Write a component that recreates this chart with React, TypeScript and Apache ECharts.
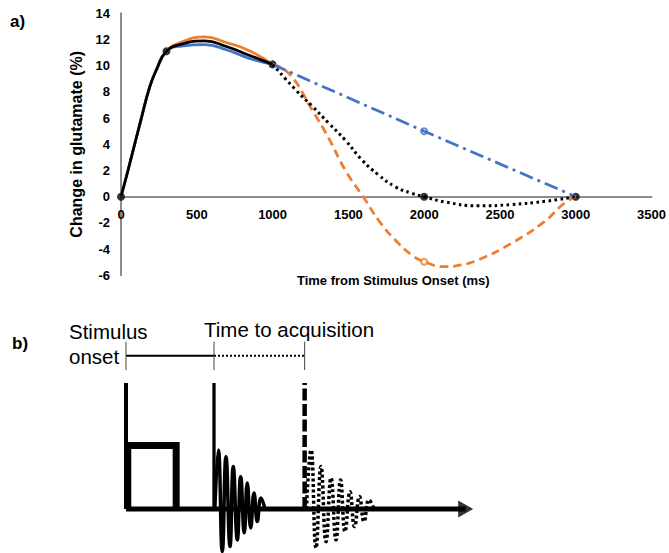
import React, { useEffect, useRef } from "react";
import * as echarts from "echarts";

// ---------- Panel a) data ----------
const riseTimes = [0, 46, 131, 190, 234, 300];
const riseValues = [0, 2.0, 5.85, 8.4, 9.7, 11.1];

const plateauTimes = [400, 550, 700, 846, 1000];
const blackPlateau = [11.65, 11.9, 11.45, 10.8, 10.1];
const orangePlateau = [11.8, 12.2, 11.75, 11.15, 10.1];
const bluePlateau = [11.5, 11.6, 11.2, 10.56, 10.1];

const blackDecayTimes = [1000, 1153, 1262, 1371, 1481, 1590, 1699, 1809, 1918, 2000, 2137, 2356, 2575, 2800, 3000];
const blackDecayValues = [10.1, 8.15, 6.9, 5.6, 4.3, 2.8, 1.66, 0.76, 0.26, 0, -0.4, -0.7, -0.6, -0.35, 0];

const orangeDecayTimes = [1000, 1109, 1262, 1371, 1481, 1612, 1699, 1809, 1918, 2000, 2137, 2246, 2356, 2575, 2793, 2924, 3000];
const orangeDecayValues = [10.1, 9.4, 6.6, 4.45, 2.0, -0.25, -1.8, -3.3, -4.45, -4.96, -5.34, -5.2, -4.83, -3.56, -1.9, -0.5, 0];

const blueDecayTimes = [1000, 2000, 3000];
const blueDecayValues = [10.1, 5, 0];

const blackMarkerTimes = [0, 300, 1000, 2000, 3000];
const blackMarkerValues = [0, 11.1, 10.1, 0, 0];

const xTicks = [0, 500, 1000, 1500, 2000, 2500, 3000, 3500];
const yTicks = [-6, -4, -2, 0, 2, 4, 6, 8, 10, 12, 14];

// ---------- Panel b) schematic data (arbitrary units) ----------
const eventTimes = [0, 1, 2.03]; // stimulus onset, acquisition 1, acquisition 2
const pulseBox = { start: 0.02, end: 0.57, height: 0.504 };
const timelineLevel = 1.217;
const fid1Times = [1.01, 1.049, 1.094, 1.136, 1.182, 1.219, 1.265, 1.303, 1.344, 1.378, 1.417, 1.455, 1.492, 1.534, 1.58];
const fid1Amps = [0, 0.468, -0.339, 0.415, -0.299, 0.336, -0.246, 0.256, -0.19, 0.206, -0.151, 0.127, -0.1, 0.087, 0];
const fid2Times = [2.05, 2.102, 2.159, 2.216, 2.273, 2.33, 2.386, 2.438, 2.489, 2.545, 2.597, 2.653, 2.705, 2.761, 2.818];
const fid2Amps = [0, 0.468, -0.31, 0.336, -0.26, 0.246, -0.246, 0.23, -0.18, 0.137, -0.14, 0.098, -0.1, 0.071, 0];
const axisEnd = 3.86;

const zip = (a: number[], b: number[]) => a.map((v, i) => [v, b[i]]);

const FONT = '"Liberation Sans", Arial, sans-serif';
const ORANGE = "#ED7D31";
const BLUE = "#4472C4";

export default function App() {
  const ref = useRef<HTMLDivElement>(null);
  useEffect(() => {
    const chart = echarts.init(ref.current!, undefined, { renderer: "svg" });
    const lw = 2.75;
    const bx = { xAxisIndex: 1, yAxisIndex: 1 };
    const gridTop = 13.3;
    const gridH = 262;
    const yMin = yTicks[0];
    const yMax = yTicks[yTicks.length - 1];
    const zeroOffset = -(gridH * (0 - yMin)) / (yMax - yMin);
    const option: any = {
      animation: false,
      grid: [
        { left: 121, top: gridTop, width: 533, height: gridH },
        { left: 99.6, top: 332.6, width: 400.4, height: 220.5 },
      ],
      xAxis: [
        {
          type: "value",
          gridIndex: 0,
          min: xTicks[0],
          max: xTicks[xTicks.length - 1],
          interval: 500,
          position: "bottom",
          offset: zeroOffset,
          axisLine: { onZero: false, lineStyle: { color: "#8c8c8c", width: 2 } },
          axisTick: { show: false },
          splitLine: { show: false },
          axisLabel: {
            color: "#000",
            fontWeight: "bold",
            fontSize: 13,
            fontFamily: FONT,
            margin: 11,
            formatter: (v: number) => String(v),
          },
          name: "Time from Stimulus Onset (ms)",
          nameLocation: "middle",
          nameGap: 77,
          nameTextStyle: { color: "#000", fontWeight: "bold", fontSize: 13, fontFamily: FONT, padding: [0, 0, 0, 14] },
        },
        { type: "value", gridIndex: 1, min: -0.3, max: 4.25, show: false },
      ],
      yAxis: [
        {
          type: "value",
          gridIndex: 0,
          min: yMin,
          max: yMax,
          interval: 2,
          axisLine: { show: true, onZero: false, lineStyle: { color: "#8c8c8c", width: 2 } },
          axisTick: { show: false },
          splitLine: { show: false },
          axisLabel: { color: "#000", fontWeight: "bold", fontSize: 13, fontFamily: FONT, margin: 11 },
          name: "Change in glutamate (%)",
          nameLocation: "middle",
          nameRotate: 90,
          nameGap: 32,
          nameTextStyle: { color: "#000", fontWeight: "bold", fontSize: 16, fontFamily: FONT },
        },
        { type: "value", gridIndex: 1, min: -0.35, max: 1.4, show: false },
      ],
      series: [
        {
          type: "line",
          data: zip(riseTimes.concat(plateauTimes), riseValues.concat(orangePlateau)),
          smooth: true,
          showSymbol: false,
          lineStyle: { color: ORANGE, width: lw },
        },
        {
          type: "line",
          data: zip(riseTimes.concat(plateauTimes), riseValues.concat(bluePlateau)),
          smooth: true,
          showSymbol: false,
          lineStyle: { color: BLUE, width: lw },
        },
        {
          type: "line",
          data: zip(riseTimes.concat(plateauTimes), riseValues.concat(blackPlateau)),
          smooth: true,
          showSymbol: false,
          lineStyle: { color: "#000", width: lw },
        },
        {
          type: "line",
          data: zip(orangeDecayTimes, orangeDecayValues),
          smooth: true,
          showSymbol: false,
          lineStyle: { color: ORANGE, width: lw, type: [8.5, 5] },
        },
        {
          type: "line",
          data: zip(blueDecayTimes, blueDecayValues),
          showSymbol: false,
          lineStyle: { color: BLUE, width: lw, type: [14, 5, 3, 5] },
        },
        {
          type: "line",
          data: zip(blackDecayTimes, blackDecayValues),
          smooth: true,
          showSymbol: false,
          lineStyle: { color: "#000", width: 3, type: [2.6, 3.4] },
        },
        {
          type: "scatter",
          data: [[blueDecayTimes[1], blueDecayValues[1]]],
          symbol: "emptyCircle",
          symbolSize: 6,
          itemStyle: { color: BLUE, borderColor: BLUE, borderWidth: 1 },
        },
        {
          type: "scatter",
          data: [[2000, orangeDecayValues[9]]],
          symbol: "emptyCircle",
          symbolSize: 6,
          itemStyle: { color: ORANGE, borderColor: ORANGE, borderWidth: 1 },
        },
        {
          type: "scatter",
          data: zip(blackMarkerTimes, blackMarkerValues),
          symbol: "circle",
          symbolSize: 8,
          itemStyle: { color: "#000" },
        },
        // ---------- panel b ----------
        {
          type: "line",
          ...bx,
          clip: false,
          data: [[eventTimes[0], 0], [axisEnd, 0]],
          symbol: "none",
          lineStyle: { color: "#000", width: 5 },
        },
        {
          type: "scatter",
          ...bx,
          clip: false,
          data: [[axisEnd, 0]],
          symbol: "path://M0,0 L15,8.5 L0,17 Z",
          symbolSize: [15, 17],
          itemStyle: { color: "#000" },
        },
        {
          type: "line",
          ...bx,
          clip: false,
          data: [[eventTimes[0], 0], [eventTimes[0], 1]],
          symbol: "none",
          lineStyle: { color: "#000", width: 4 },
        },
        {
          type: "line",
          ...bx,
          clip: false,
          data: [
            [pulseBox.start, 0],
            [pulseBox.start, pulseBox.height],
            [pulseBox.end, pulseBox.height],
            [pulseBox.end, 0],
          ],
          symbol: "none",
          lineStyle: { color: "#000", width: 7, join: "miter" },
        },
        {
          type: "line",
          ...bx,
          clip: false,
          data: [[eventTimes[1], 0], [eventTimes[1], 1]],
          symbol: "none",
          lineStyle: { color: "#000", width: 3.3 },
        },
        {
          type: "line",
          ...bx,
          clip: false,
          data: zip(fid1Times, fid1Amps),
          smooth: true,
          symbol: "none",
          lineStyle: { color: "#000", width: 3.5 },
        },
        {
          type: "line",
          ...bx,
          clip: false,
          data: [[eventTimes[2], 0], [eventTimes[2], 1]],
          symbol: "none",
          lineStyle: { color: "#000", width: 4.5, type: [12, 3.5] },
        },
        {
          type: "line",
          ...bx,
          clip: false,
          data: zip(fid2Times, fid2Amps),
          smooth: true,
          symbol: "none",
          lineStyle: { color: "#000", width: 3.5, type: [3, 2.5] },
        },
        {
          type: "line",
          ...bx,
          clip: false,
          data: [[eventTimes[0], timelineLevel], [eventTimes[1], timelineLevel]],
          symbol: "none",
          lineStyle: { color: "#000", width: 2 },
        },
        {
          type: "line",
          ...bx,
          clip: false,
          data: [[eventTimes[1], timelineLevel], [eventTimes[2], timelineLevel]],
          symbol: "none",
          lineStyle: { color: "#000", width: 2, type: [2, 2] },
        },
        ...eventTimes.map((t) => ({
          type: "line",
          ...bx,
          clip: false,
          data: [[t, 1.103], [t, 1.328]],
          symbol: "none",
          lineStyle: { color: "#444", width: 1 },
        })),
      ],
      graphic: [
        { type: "text", x: 10, y: 21, style: { text: "a)", font: `bold 17px ${FONT}`, fill: "#000", verticalAlign: "middle", textVerticalAlign: "middle" } },
        { type: "text", x: 12, y: 343, style: { text: "b)", font: `bold 17px ${FONT}`, fill: "#000", verticalAlign: "middle", textVerticalAlign: "middle" } },
        { type: "text", x: 69, y: 331, style: { text: "Stimulus", font: `20.5px ${FONT}`, fill: "#000", verticalAlign: "middle", textVerticalAlign: "middle" } },
        { type: "text", x: 69, y: 356, style: { text: "onset", font: `20.5px ${FONT}`, fill: "#000", verticalAlign: "middle", textVerticalAlign: "middle" } },
        { type: "text", x: 204, y: 329, style: { text: "Time to acquisition", font: `20.5px ${FONT}`, fill: "#000", verticalAlign: "middle", textVerticalAlign: "middle" } },
      ],
    };
    chart.setOption(option);
    return () => chart.dispose();
  }, []);
  return (
    <div
      ref={ref}
      style={{ position: "absolute", left: 0, top: 0, width: 669, height: 553, background: "#fff" }}
    />
  );
}
